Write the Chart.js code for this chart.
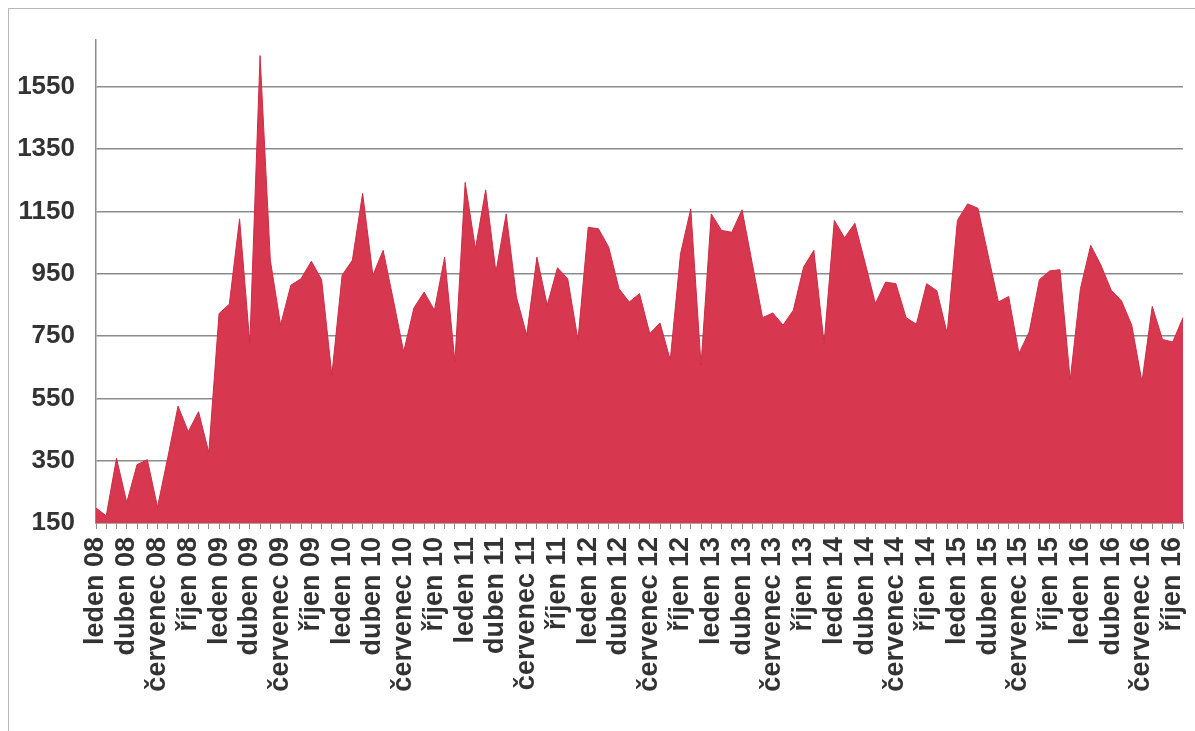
<!DOCTYPE html>
<html>
<head>
<meta charset="utf-8">
<script src="https://cdn.jsdelivr.net/npm/chart.js@4"></script>
<style>
  html, body { margin: 0; padding: 0; background: #fff; }
  #frame { position: absolute; left: 8px; top: 8px; width: 1200px; height: 740px;
           border-left: 1px solid #b8b8b8; border-top: 1px solid #b8b8b8; }
  #wrap { position: absolute; left: 0; top: 0; width: 1195px; height: 731px; }
</style>
</head>
<body>
<div id="frame"></div>
<div id="wrap"><canvas id="areaChart"></canvas></div>
<script>
// months jan 2008 .. nov 2016
const monthNames = ["leden", "únor", "březen", "duben", "květen", "červen",
  "červenec", "srpen", "září", "říjen", "listopad", "prosinec"];
const years = ["08", "09", "10", "11", "12", "13", "14", "15", "16"];

const values = [
  198, 173, 358, 216, 337, 353, 201, 360, 525, 443, 507, 376,   // 2008
  822, 852, 1126, 726, 1650, 993, 785, 913, 934, 990, 931, 625, // 2009
  945, 993, 1208, 945, 1025, 865, 699, 840, 891, 833, 1003, 667, // 2010
  1243, 1030, 1219, 955, 1142, 875, 753, 1003, 849, 969, 934, 737, // 2011
  1099, 1094, 1035, 902, 859, 886, 758, 792, 673, 1014, 1158, 657, // 2012
  1142, 1089, 1083, 1155, 982, 809, 824, 785, 833, 971, 1025, 726, // 2013
  1121, 1065, 1112, 985, 854, 923, 918, 809, 788, 918, 895, 758,  // 2014
  1121, 1174, 1160, 1009, 859, 877, 694, 763, 931, 959, 963, 609, // 2015
  902, 1041, 977, 897, 863, 785, 603, 845, 739, 731, 809          // 2016
];

const yTicks = [150, 350, 550, 750, 950, 1150, 1350, 1550];

const labels = [];
years.forEach((y) => monthNames.forEach((m) => labels.push(m + " " + y)));
labels.length = values.length;

const ctx = document.getElementById("areaChart").getContext("2d");

const chart = new Chart(ctx, {
  type: "line",
  data: {
    labels: labels,
    datasets: [
      {
        data: values,
        backgroundColor: "#d7384f",
        borderColor: "#cc2d45",
        borderWidth: 1,
        fill: "start",
        pointRadius: 0,
        tension: 0,
      },
    ],
  },
  options: {
    responsive: true,
    maintainAspectRatio: false,
    animation: false,
    layout: { padding: { top: 40, right: 12, left: 0, bottom: 0 } },
    plugins: {
      legend: { display: false },
      tooltip: { enabled: false },
    },
    scales: {
      x: {
        grid: {
          drawOnChartArea: false,
          drawTicks: true,
          tickLength: 6,
          color: "#8c8c8c",
          lineWidth: 1,
        },
        border: { display: true, color: "#8c8c8c", width: 1.5 },
        ticks: {
          autoSkip: false,
          minRotation: 90,
          maxRotation: 90,
          padding: 8,
          color: "#333",
          font: { family: "'Liberation Sans', Arial, sans-serif", size: 27, weight: "bold" },
          callback: function (value, index) {
            return index % 3 === 0 ? labels[index] : "";
          },
        },
        afterFit: function (scale) {
          scale.height = 208;
          scale.paddingLeft = 0;
          scale.paddingRight = 0;
        },
      },
      y: {
        min: 150,
        max: 1700,
        afterBuildTicks: function (scale) {
          scale.ticks = yTicks.map((v) => ({ value: v }));
        },
        grid: {
          drawTicks: false,
          color: "#8c8c8c",
          lineWidth: 1.5,
        },
        border: { display: true, color: "#8c8c8c", width: 1.5 },
        ticks: {
          padding: 21,
          color: "#333",
          font: { family: "'Liberation Sans', Arial, sans-serif", size: 26, weight: "bold" },
          callback: function (value) {
            return String(value);
          },
        },
        afterFit: function (scale) {
          scale.width = 96;
        },
      },
    },
  },
});
</script>
</body>
</html>
